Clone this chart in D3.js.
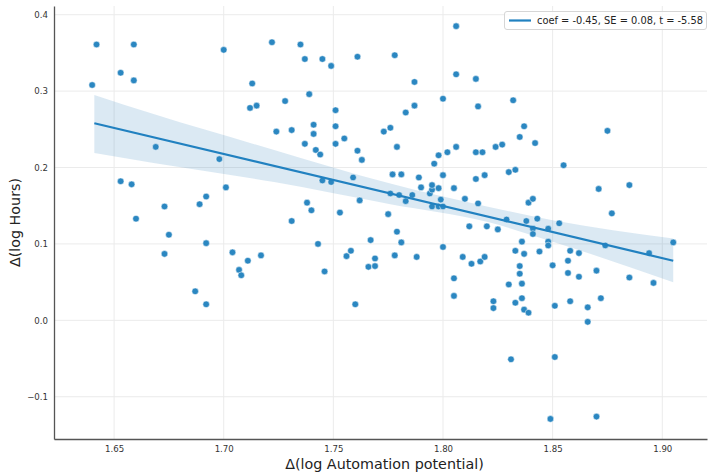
<!DOCTYPE html>
<html>
<head>
<meta charset="utf-8">
<script src="https://cdn.jsdelivr.net/npm/d3@7"></script>
<style>
  body { margin: 0; background: #fff; }
  text { font-family: "DejaVu Sans", sans-serif; }
</style>
</head>
<body>
<script>
// data
var xs = [1.640,1.642,1.653,1.659,1.659,1.653,1.658,1.660,1.669,1.673,1.675,1.673,1.687,1.689,1.692,1.692,1.692,1.698,1.700,1.701,
          1.704,1.707,1.708,1.711,1.712,1.713,1.715,1.717,1.722,1.724,1.728,1.731,1.731,1.735,1.737,1.739,1.737,1.738,1.740,1.741,
          1.741,1.742,1.744,1.743,1.745,1.745,1.746,1.749,1.749,1.751,1.751,1.751,1.753,1.755,1.756,1.758,1.759,1.760,1.761,1.761,
          1.762,1.763,1.766,1.767,1.769,1.769,1.773,1.775,1.776,1.776,1.777,1.778,1.778,1.779,1.779,1.780,1.781,1.781,1.783,1.783,
          1.786,1.787,1.787,1.788,1.789,1.790,1.794,1.795,1.795,1.795,1.796,1.798,1.798,1.798,1.800,1.799,1.800,1.800,1.800,1.802,
          1.805,1.805,1.805,1.806,1.806,1.806,1.809,1.810,1.812,1.813,1.815,1.815,1.815,1.816,1.816,1.817,1.818,1.819,1.819,1.820,
          1.823,1.823,1.824,1.825,1.827,1.829,1.830,1.830,1.831,1.832,1.833,1.833,1.833,1.835,1.835,1.835,1.836,1.836,1.836,1.837,
          1.837,1.837,1.838,1.839,1.839,1.841,1.841,1.841,1.842,1.843,1.844,1.848,1.848,1.848,1.849,1.850,1.851,1.851,1.853,1.855,
          1.857,1.857,1.858,1.858,1.862,1.862,1.866,1.866,1.870,1.870,1.871,1.872,1.874,1.875,1.877,1.885,1.885,1.894,1.896,1.905];
var ys = [0.308,0.361,0.324,0.361,0.314,0.182,0.178,0.133,0.227,0.149,0.112,0.087,0.038,0.152,0.162,0.101,0.021,0.211,0.354,0.174,
          0.089,0.066,0.059,0.078,0.278,0.310,0.281,0.085,0.364,0.247,0.287,0.249,0.130,0.361,0.342,0.296,0.231,0.154,0.144,0.256,
          0.244,0.223,0.217,0.100,0.342,0.183,0.064,0.333,0.181,0.231,0.275,0.254,0.141,0.238,0.084,0.091,0.187,0.021,0.345,0.222,
          0.157,0.210,0.070,0.105,0.081,0.071,0.247,0.139,0.252,0.166,0.191,0.347,0.085,0.116,0.227,0.164,0.191,0.102,0.272,0.156,
          0.164,0.312,0.281,0.083,0.187,0.174,0.166,0.171,0.177,0.149,0.205,0.216,0.173,0.149,0.149,0.158,0.190,0.290,0.096,0.220,
          0.173,0.055,0.032,0.227,0.322,0.385,0.083,0.159,0.123,0.074,0.316,0.220,0.185,0.153,0.280,0.077,0.220,0.190,0.083,0.123,
          0.016,0.025,0.227,0.119,0.230,0.132,0.047,0.194,-0.051,0.288,0.197,0.091,0.023,0.240,0.071,0.061,0.048,0.103,0.029,0.087,
          0.014,0.254,0.130,0.154,0.010,0.120,0.113,0.159,0.232,0.133,0.090,0.103,0.120,0.098,-0.129,0.072,0.019,-0.048,0.127,0.203,
          0.078,0.062,0.091,0.025,0.088,0.057,0.017,-0.002,-0.126,0.065,0.172,0.029,0.098,0.248,0.140,0.177,0.056,0.088,0.049,0.102];

// fitted line and confidence band
var fitX = [1.641, 1.905];
var fitY = [0.258, 0.078];
var bandX = [1.641, 1.668, 1.723, 1.776, 1.820, 1.850, 1.905];
var bandHi = [0.295, 0.270, 0.223, 0.179, 0.149, 0.131, 0.107];
var bandLo = [0.219, 0.206, 0.181, 0.152, 0.129, 0.103, 0.050];

var xTicks = [1.65, 1.70, 1.75, 1.80, 1.85, 1.90];
var yTicks = [0.4, 0.3, 0.2, 0.1, 0.0, -0.1];
var legendText = "coef = -0.45, SE = 0.08, t = -5.58";

var width = 709, height = 473;
var margin = {top: 6, right: 2, bottom: 34, left: 54};
var blue = "#2b87c1";

var svg = d3.select("body").append("svg")
    .attr("width", width)
    .attr("height", height);

var x = d3.scaleLinear().domain([1.6226, 1.9204]).range([margin.left, width - margin.right]);
var y = d3.scaleLinear().domain([-0.1553, 0.4114]).range([height - margin.bottom, margin.top]);

// grid
svg.append("g").selectAll("line.gx").data(xTicks).enter().append("line")
    .attr("x1", function(d) { return x(d); }).attr("x2", function(d) { return x(d); })
    .attr("y1", y.range()[0]).attr("y2", y.range()[1])
    .attr("stroke", "#ebebeb").attr("stroke-width", 1);
svg.append("g").selectAll("line.gy").data(yTicks).enter().append("line")
    .attr("y1", function(d) { return y(d); }).attr("y2", function(d) { return y(d); })
    .attr("x1", x.range()[0]).attr("x2", x.range()[1])
    .attr("stroke", "#ebebeb").attr("stroke-width", 1);

// confidence band
var band = d3.area()
    .x(function(d, i) { return x(bandX[i]); })
    .y0(function(d, i) { return y(bandLo[i]); })
    .y1(function(d, i) { return y(bandHi[i]); })
    .curve(d3.curveMonotoneX);
svg.append("path").datum(bandX)
    .attr("d", band)
    .attr("fill", "#1f77b4").attr("fill-opacity", 0.16);

// points
svg.append("g").selectAll("circle").data(xs).enter().append("circle")
    .attr("cx", function(d) { return x(d); })
    .attr("cy", function(d, i) { return y(ys[i]); })
    .attr("r", 3.3)
    .attr("fill", blue)
    .attr("stroke", "#fff").attr("stroke-width", 0.5);

// regression line
var line = d3.line()
    .x(function(d) { return x(d); })
    .y(function(d, i) { return y(fitY[i]); });
svg.append("path").datum(fitX)
    .attr("d", line)
    .attr("fill", "none").attr("stroke", "#2181c0").attr("stroke-width", 2.2);

// axes
var xAxis = svg.append("g")
    .attr("transform", "translate(0," + (height - margin.bottom) + ")")
    .call(d3.axisBottom(x).tickValues(xTicks).tickSize(0).tickPadding(7).tickFormat(d3.format(".2f")));
var yAxis = svg.append("g")
    .attr("transform", "translate(" + margin.left + ",0)")
    .call(d3.axisLeft(y).tickValues(yTicks).tickSize(0).tickPadding(6).tickFormat(d3.format(".1f")));
[xAxis, yAxis].forEach(function(a) {
  a.select(".domain").attr("stroke", "#555").attr("stroke-width", 1.3);
  a.selectAll("text").attr("fill", "#333").style("font-size", "8.6px").style("font-family", "DejaVu Sans");
});

// axis labels
svg.append("text")
    .attr("x", (x.range()[0] + x.range()[1]) / 2 + 4)
    .attr("y", 469)
    .attr("text-anchor", "middle")
    .attr("fill", "#222")
    .style("font-size", "14.3px")
    .text("\u0394(log Automation potential)");
svg.append("text")
    .attr("transform", "translate(20," + ((y.range()[0] + y.range()[1]) / 2) + ") rotate(-90)")
    .attr("text-anchor", "middle")
    .attr("fill", "#222")
    .style("font-size", "14.3px")
    .text("\u0394(log Hours)");

// legend
var lg = svg.append("g");
lg.append("rect")
    .attr("x", 504.5).attr("y", 11.5).attr("width", 202).attr("height", 18)
    .attr("rx", 2.5)
    .attr("fill", "#fff").attr("fill-opacity", 0.8)
    .attr("stroke", "#d6d6d6");
lg.append("line")
    .attr("x1", 509).attr("x2", 531).attr("y1", 20.5).attr("y2", 20.5)
    .attr("stroke", "#2181c0").attr("stroke-width", 2.2);
lg.append("text")
    .attr("x", 537).attr("y", 24.3)
    .attr("fill", "#222")
    .attr("textLength", 166)
    .attr("lengthAdjust", "spacingAndGlyphs")
    .style("font-size", "9.6px")
    .text(legendText);
</script>
</body>
</html>
